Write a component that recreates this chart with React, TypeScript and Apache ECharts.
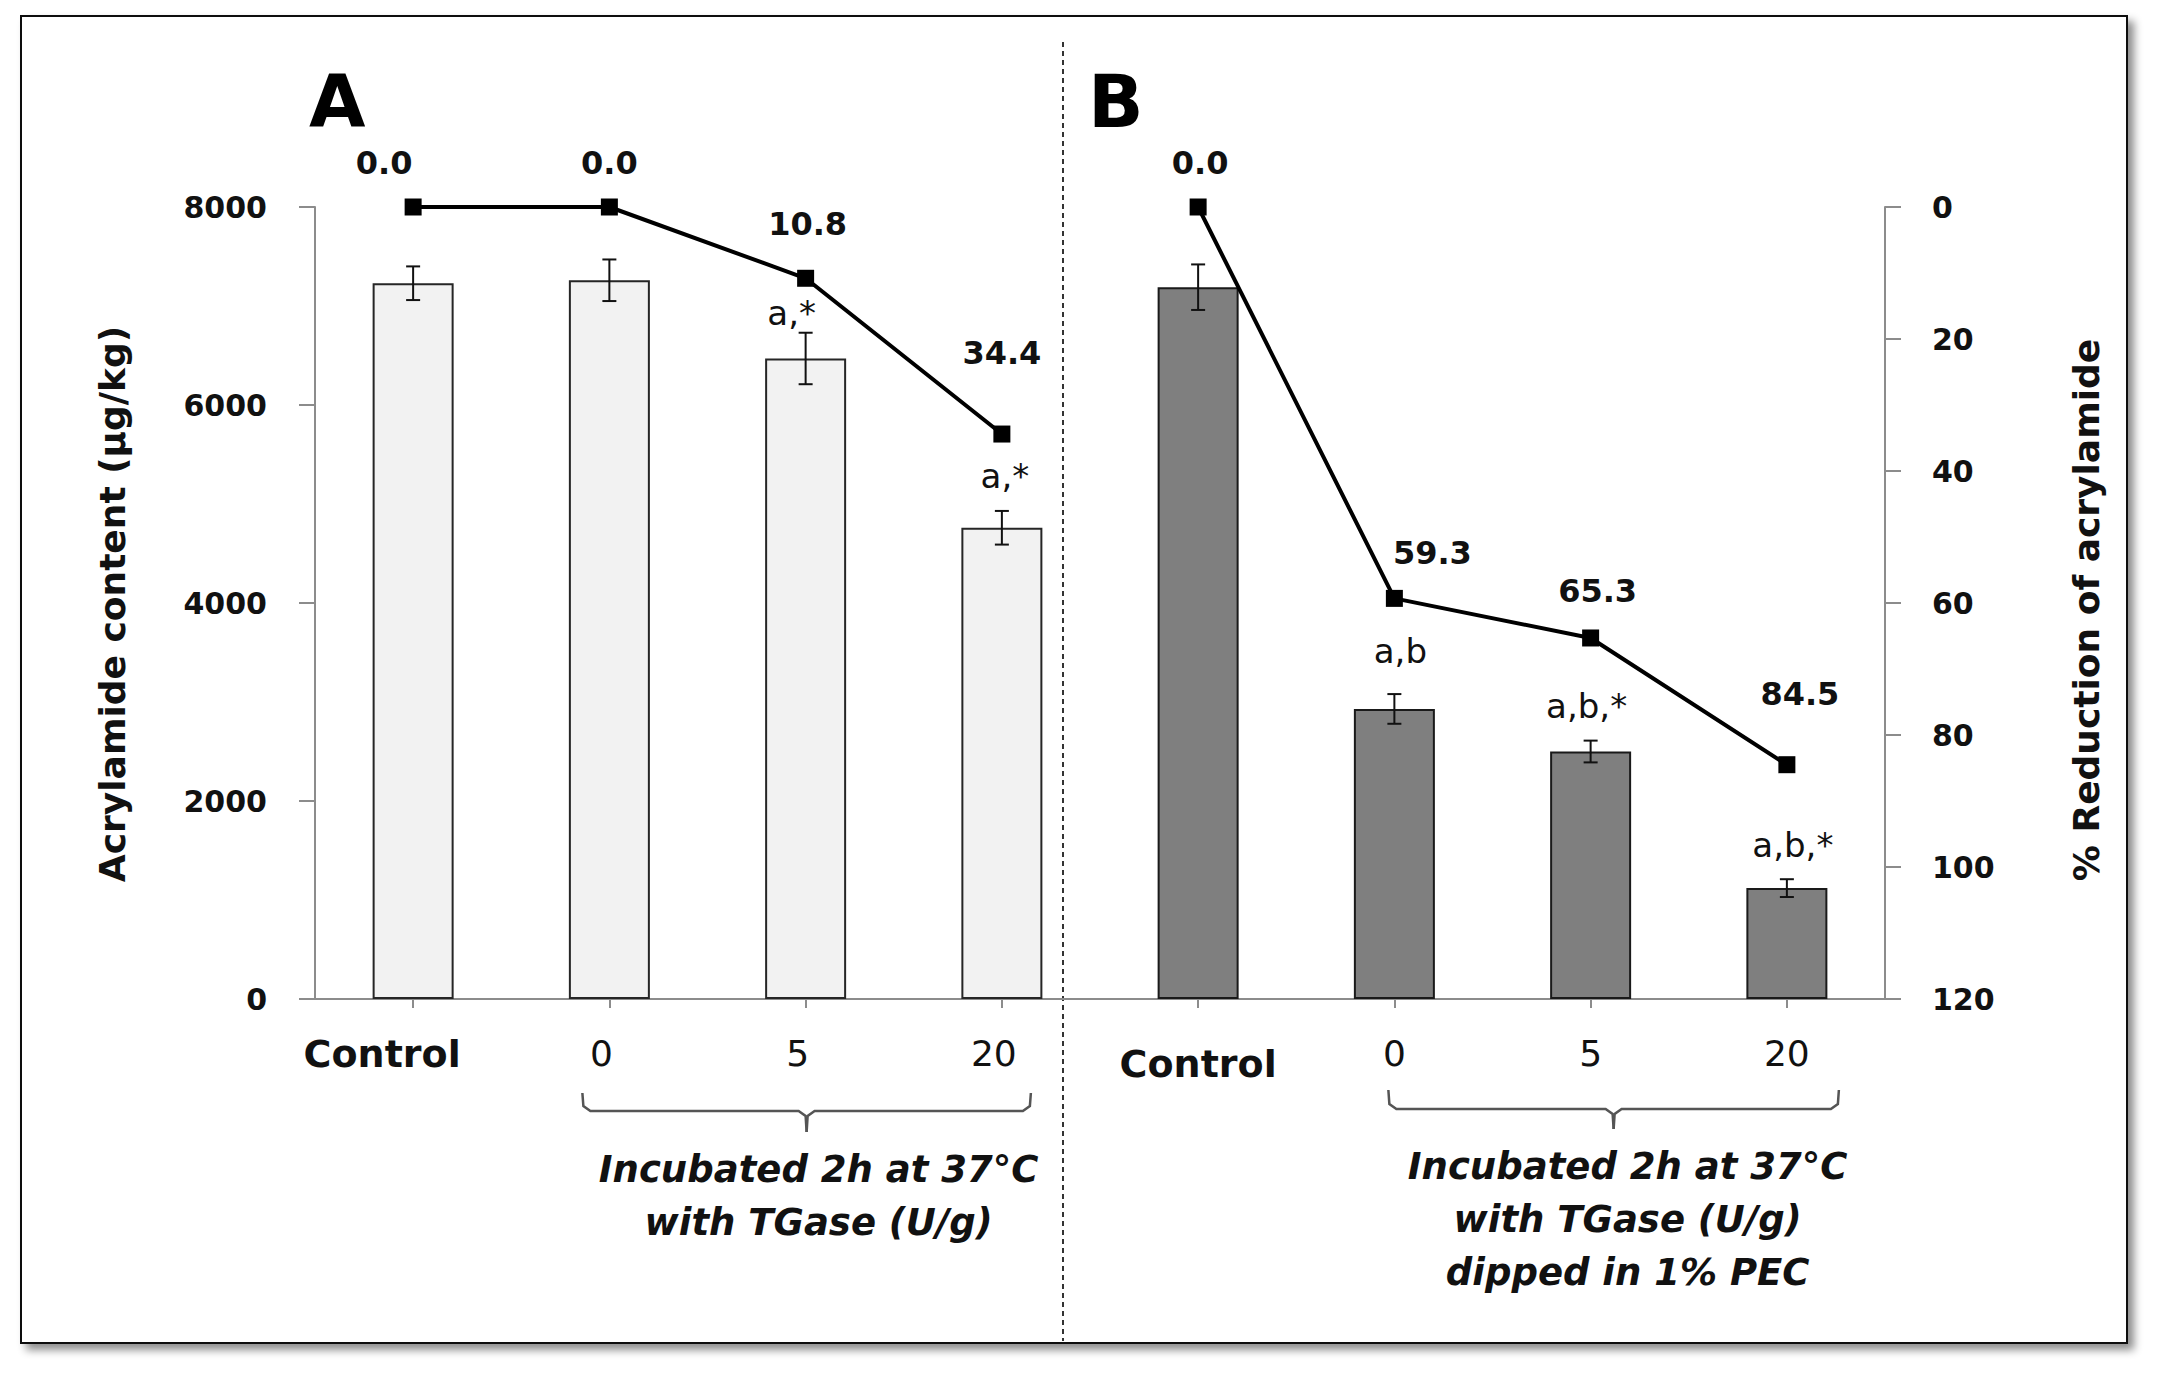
import React, { useEffect, useRef } from "react";
import * as echarts from "echarts";

// ---------- data ----------
const panels = ["A", "A", "A", "A", "B", "B", "B", "B"];
const treatments = ["Control", "0", "5", "20", "Control", "0", "5", "20"];
const categories = treatments.map((t, i) => `${panels[i]}|${t}`);
const acrylamideMean = [7230, 7260, 6470, 4760, 7190, 2930, 2500, 1120];
const acrylamideErr = [170, 210, 260, 170, 230, 150, 110, 90];
const significance = ["", "", "a,*", "a,*", "", "a,b", "a,b,*", "a,b,*"];
const reductionA: (number | null)[] = [0.0, 0.0, 10.8, 34.4, null, null, null, null];
const reductionB: (number | null)[] = [null, null, null, null, 0.0, 59.3, 65.3, 84.5];
const leftAxis = { min: 0, max: 8000, interval: 2000 };
const rightAxis = { min: 0, max: 120, interval: 20 };
const leftTitle = "Acrylamide content (µg/kg)";
const rightTitle = "% Reduction of acrylamide";
const noteA = ["Incubated 2h at 37°C", "with TGase (U/g)"];
const noteB = ["Incubated 2h at 37°C", "with TGase (U/g)", "dipped in 1% PEC"];

// ---------- label nudges (style only) ----------
const lineLabelNudge = [[-29, -44], [0, -44], [2, -54], [0, -81], [2, -44], [38, -45], [7, -47], [13, -71]];
const letterNudge = [[0, 0], [0, 0], [-14, -20], [3, -35], [0, 0], [6, -43], [-4, -35], [6, -34]];

const FONT = "DejaVu Sans";
const AXIS_GRAY = "#8c8c8c";

function lineData(arr: (number | null)[]) {
  return arr.map((v, i) =>
    v == null ? "-" : { value: v, label: { offset: lineLabelNudge[i] } }
  );
}

export default function App() {
  const ref = useRef<HTMLDivElement>(null);

  useEffect(() => {
    const chart = echarts.init(ref.current!, undefined, { renderer: "svg" });

    const lineSeriesBase = {
      type: "line",
      yAxisIndex: 1,
      symbol: "rect",
      symbolSize: 17,
      connectNulls: false,
      lineStyle: { color: "#000", width: 4 },
      itemStyle: { color: "#000" },
      label: {
        show: true,
        position: "inside",
        formatter: (p: any) => Number(p.value).toFixed(1),
        fontFamily: FONT,
        fontWeight: "bold",
        fontSize: 32,
        color: "#111",
        align: "center",
        verticalAlign: "middle",
      },
      z: 5,
    };

    const option: any = {
      animation: false,
      backgroundColor: "#fff",
      grid: { left: 315, right: 275, top: 207, bottom: 374, containLabel: false },
      xAxis: {
        type: "category",
        data: categories,
        axisLine: { show: true, lineStyle: { color: AXIS_GRAY, width: 2 } },
        axisTick: { show: true, alignWithLabel: true, length: 9, lineStyle: { color: AXIS_GRAY, width: 2 } },
        axisLabel: {
          margin: 36,
          interval: 0,
          formatter: (val: string) => {
            const [g, t] = val.split("|");
            if (t === "Control") return g === "A" ? `{ctlA|${t}}` : `{ctl|${t}}`;
            return g === "A" ? `{numA|${t}}` : `{num|${t}}`;
          },
          rich: {
            ctlA: { fontFamily: FONT, fontWeight: "bold", fontSize: 38, color: "#111", padding: [0, 62, 0, 0] },
            ctl: { fontFamily: FONT, fontWeight: "bold", fontSize: 38, color: "#111", padding: [10, 0, 0, 0] },
            numA: { fontFamily: FONT, fontSize: 36, color: "#111", padding: [0, 16, 0, 0] },
            num: { fontFamily: FONT, fontSize: 36, color: "#111" },
          },
        },
        splitLine: { show: false },
      },
      yAxis: [
        {
          type: "value",
          ...leftAxis,
          axisLine: { show: true, lineStyle: { color: AXIS_GRAY, width: 2 } },
          axisTick: { show: true, length: 16, lineStyle: { color: AXIS_GRAY, width: 2 } },
          axisLabel: {
            fontFamily: FONT, fontWeight: "bold", fontSize: 30, color: "#111", margin: 48,
            formatter: (v: number) => String(v),
          },
          splitLine: { show: false },
        },
        {
          type: "value",
          position: "right",
          inverse: true,
          ...rightAxis,
          axisLine: { show: true, lineStyle: { color: AXIS_GRAY, width: 2 } },
          axisTick: { show: true, length: 16, lineStyle: { color: AXIS_GRAY, width: 2 } },
          axisLabel: {
            fontFamily: FONT, fontWeight: "bold", fontSize: 30, color: "#111", margin: 47,
            formatter: (v: number) => String(v),
          },
          splitLine: { show: false },
        },
      ],
      series: [
        {
          type: "bar",
          yAxisIndex: 0,
          barWidth: 81,
          data: acrylamideMean.map((v, i) => ({
            value: v,
            itemStyle:
              panels[i] === "A"
                ? { color: "#f2f2f2", borderColor: "#262626", borderWidth: 2 }
                : { color: "#7f7f7f", borderColor: "#1a1a1a", borderWidth: 2 },
          })),
          z: 2,
        },
        {
          type: "custom",
          yAxisIndex: 0,
          data: acrylamideMean.map((m, i) => [i, m, acrylamideErr[i]]),
          encode: { x: 0, y: 1 },
          z: 4,
          renderItem: (params: any, api: any) => {
            const i = api.value(0);
            const m = api.value(1);
            const e = api.value(2);
            const top = api.coord([i, m + e]);
            const bot = api.coord([i, m - e]);
            const cap = 7;
            const st = { stroke: "#111", lineWidth: 2 };
            const children: any[] = [
              { type: "line", shape: { x1: top[0], y1: top[1], x2: bot[0], y2: bot[1] }, style: st },
              { type: "line", shape: { x1: top[0] - cap, y1: top[1], x2: top[0] + cap, y2: top[1] }, style: st },
              { type: "line", shape: { x1: bot[0] - cap, y1: bot[1], x2: bot[0] + cap, y2: bot[1] }, style: st },
            ];
            const txt = significance[params.dataIndex];
            if (txt) {
              const n = letterNudge[params.dataIndex];
              children.push({
                type: "text",
                x: top[0] + n[0],
                y: top[1] + n[1],
                style: {
                  text: txt,
                  fontFamily: FONT,
                  fontSize: 34,
                  fill: "#111",
                  align: "center",
                  verticalAlign: "middle",
                },
              });
            }
            return { type: "group", children };
          },
        },
        { ...lineSeriesBase, data: lineData(reductionA) },
        { ...lineSeriesBase, data: lineData(reductionB) },
      ],
    };

    chart.setOption(option);

    const px = (i: number) => chart.convertToPixel({ xAxisIndex: 0 }, categories[i]) as number;

    const brace = (l: number, r: number, t: number, y: number, b: number) => {
      const c = (l + r) / 2;
      const st = { stroke: "#555", lineWidth: 2.5, fill: "none" };
      return [
        { type: "polyline", shape: { points: [[l, t], [l + 1, y - 5], [l + 8, y], [c - 8, y], [c - 1, y + 5], [c, b]] }, style: st },
        { type: "polyline", shape: { points: [[c, b], [c + 1, y + 5], [c + 8, y], [r - 8, y], [r - 1, y - 5], [r, t]] }, style: st },
      ];
    };

    const noteStyle = {
      fontFamily: FONT,
      fontStyle: "italic",
      fontWeight: "bold",
      fontSize: 37,
      fill: "#111",
      align: "center",
      verticalAlign: "middle",
    };

    const aL = px(1) - 27, aR = px(3) + 29;
    const bL = px(5) - 6, bR = px(7) + 52;
    const aC = (aL + aR) / 2 + 12;
    const bC = (bL + bR) / 2 + 14;

    const graphics: any[] = [
      {
        type: "rect",
        z: -10,
        shape: { x: 21, y: 16, width: 2106, height: 1327 },
        style: {
          fill: "#fff",
          stroke: "#111",
          lineWidth: 2,
          shadowBlur: 8,
          shadowOffsetX: 6,
          shadowOffsetY: 6,
          shadowColor: "rgba(0,0,0,0.45)",
        },
      },
      {
        type: "line",
        shape: { x1: 1063, y1: 42, x2: 1063, y2: 1341 },
        style: { stroke: "#333", lineWidth: 2, lineDash: [5, 4] },
      },
      { type: "text", x: 309, y: 101, style: { text: "A", fontFamily: FONT, fontWeight: "bold", fontSize: 73, fill: "#000", align: "left", verticalAlign: "middle" } },
      { type: "text", x: 1088, y: 101, style: { text: "B", fontFamily: FONT, fontWeight: "bold", fontSize: 73, fill: "#000", align: "left", verticalAlign: "middle" } },
      { type: "text", x: 112, y: 604, rotation: Math.PI / 2, style: { text: leftTitle, fontFamily: FONT, fontWeight: "bold", fontSize: 36, fill: "#111", align: "center", verticalAlign: "middle" } },
      { type: "text", x: 2086, y: 610, rotation: Math.PI / 2, style: { text: rightTitle, fontFamily: FONT, fontWeight: "bold", fontSize: 36, fill: "#111", align: "center", verticalAlign: "middle" } },
      ...brace(aL, aR, 1093, 1111, 1132),
      ...brace(bL, bR, 1090, 1109, 1129),
      ...noteA.map((t, k) => ({ type: "text", x: aC, y: 1169 + k * 53, style: { ...noteStyle, text: t } })),
      ...noteB.map((t, k) => ({ type: "text", x: bC, y: 1166 + k * 53, style: { ...noteStyle, text: t } })),
    ];

    chart.setOption({ graphic: graphics });

    return () => chart.dispose();
  }, []);

  return (
    <div
      ref={ref}
      style={{ position: "fixed", left: 0, top: 0, width: 2160, height: 1373, background: "#fff" }}
    />
  );
}
